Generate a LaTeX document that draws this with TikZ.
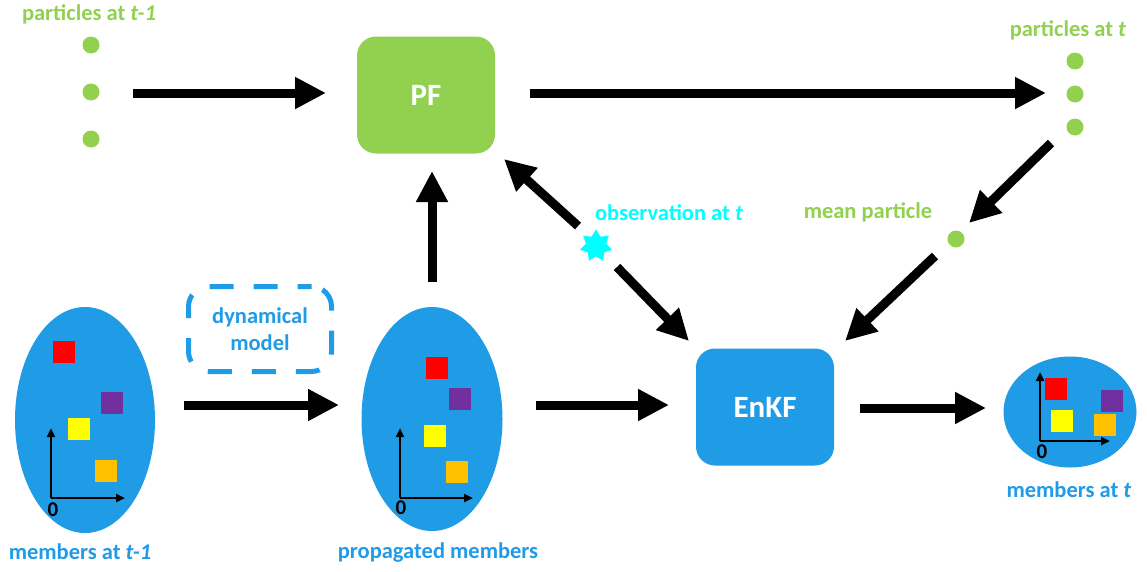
\documentclass[tikz,border=0pt]{standalone}
\usepackage{fontspec}
\setmainfont{Carlito}
\usetikzlibrary{arrows.meta,shapes.geometric}
\definecolor{pgreen}{RGB}{146,208,80}
\definecolor{mblue}{RGB}{32,155,230}
\definecolor{obscyan}{RGB}{0,255,255}
\definecolor{sqred}{RGB}{255,0,0}
\definecolor{sqpurple}{RGB}{112,48,160}
\definecolor{sqyellow}{RGB}{255,255,0}
\definecolor{sqorange}{RGB}{255,192,0}
\tikzset{
  bigarrow/.style={line width=9pt,-{Triangle[length=31pt,width=30pt]}},
  axisarrow/.style={line width=2.5pt,-{Triangle[length=9pt,width=8pt]}},
  dot/.style={circle,fill=pgreen,inner sep=0pt,minimum size=17pt},
  glabel/.style={text=pgreen,font=\fontsize{22.5}{26}\selectfont\bfseries,inner sep=0pt},
  blabel/.style={text=mblue,font=\fontsize{22.5}{26}\selectfont\bfseries,inner sep=0pt},
  procbox/.style={rounded corners=19pt,text=white,font=\fontsize{31}{34}\selectfont\bfseries,minimum width=138pt,minimum height=117pt},
  ens/.style={ellipse,fill=mblue,inner sep=0pt},
  sq/.style={minimum size=22pt,inner sep=0pt},
  zero/.style={font=\fontsize{21}{24}\selectfont\bfseries,inner sep=0pt}
}
\begin{document}
\begin{tikzpicture}[x=1pt,y=-1pt]
\useasboundingbox (0,0) rectangle (1147,571);
% particles at t-1
\node[glabel] (lpt1) at (89,14) {particles at \textit{t-1}};
\node[dot] (p1a) at (91,45) {};
\node[dot] (p1b) at (91,92) {};
\node[dot] (p1c) at (91,139) {};
% PF
\node[procbox,fill=pgreen] (pf) at (426,95) {PF};
% particles at t
\node[glabel] (lpt) at (1068,30) {particles at \textit{t}};
\node[dot] (p2a) at (1075,61) {};
\node[dot] (p2b) at (1075,94) {};
\node[dot] (p2c) at (1075,127) {};
% mean particle
\node[glabel] (lmean) at (868,212) {mean particle};
\node[dot] (pm) at (956,239) {};
% observation
\node[text=obscyan,font=\fontsize{22.5}{26}\selectfont\bfseries,inner sep=0pt] (lobs) at (669,213) {observation at \textit{t}};
\node[star,star points=7,star point ratio=1.6,fill=obscyan,minimum size=33pt,inner sep=0pt] (obs) at (596,246) {};
% EnKF
\node[procbox,fill=mblue] (enkf) at (765,407) {EnKF};
% dynamical model
\node[draw=mblue,line width=5pt,dash pattern=on 24pt off 20pt,dash phase=10pt,rounded corners=20pt,minimum width=143pt,minimum height=85pt,text=mblue,font=\fontsize{22.5}{27}\selectfont\bfseries,align=center] (dyn) at (260,329) {dynamical\\model};
% ensemble at t-1
\node[ens,minimum width=140pt,minimum height=226pt] (e1) at (85,420) {};
\node[sq,fill=sqred] (e1r) at (64,352) {};
\node[sq,fill=sqpurple] (e1p) at (112,403) {};
\node[sq,fill=sqyellow] (e1y) at (79,429) {};
\node[sq,fill=sqorange] (e1o) at (106,471) {};
\coordinate (o1) at (51,498);
\coordinate (o1y) at (51,428);
\coordinate (o1x) at (125,498);
\draw[axisarrow] (o1) -- (o1y);
\draw[axisarrow] (o1) -- (o1x);
\node[zero] (z1) at (53,510) {0};
\node[blabel] (le1) at (80,552) {members at \textit{t-1}};
% propagated
\node[ens,minimum width=141pt,minimum height=224pt] (e2) at (432,419) {};
\node[sq,fill=sqred] (e2r) at (437,368) {};
\node[sq,fill=sqpurple] (e2p) at (460,399) {};
\node[sq,fill=sqyellow] (e2y) at (435,436) {};
\node[sq,fill=sqorange] (e2o) at (457,472) {};
\coordinate (o2) at (400,498);
\coordinate (o2y) at (400,428);
\coordinate (o2x) at (473,498);
\draw[axisarrow] (o2) -- (o2y);
\draw[axisarrow] (o2) -- (o2x);
\node[zero] (z2) at (401,508) {0};
\node[blabel] (le2) at (438,552) {propagated members};
% members at t
\node[ens,minimum width=133pt,minimum height=111pt] (e3) at (1070,412) {};
\node[sq,fill=sqred] (e3r) at (1056,389) {};
\node[sq,fill=sqpurple] (e3p) at (1112,401) {};
\node[sq,fill=sqyellow] (e3y) at (1062,421) {};
\node[sq,fill=sqorange] (e3o) at (1105,425) {};
\coordinate (o3) at (1040,441);
\coordinate (o3y) at (1040,372);
\coordinate (o3x) at (1110,441);
\draw[axisarrow] (o3) -- (o3y);
\draw[axisarrow] (o3) -- (o3x);
\node[zero] (z3) at (1042,452) {0};
\node[blabel] (le3) at (1069,490) {members at \textit{t}};
% big arrows
\coordinate (a1s) at (133,93);
\coordinate (a1e) at (326,93);
\draw[bigarrow] (a1s) -- (a1e);
\coordinate (a2s) at (530,93);
\coordinate (a2e) at (1046,93);
\draw[bigarrow] (a2s) -- (a2e);
\coordinate (a3s) at (1051,143);
\coordinate (a3e) at (969,223);
\draw[bigarrow] (a3s) -- (a3e);
\coordinate (a4s) at (935,256);
\coordinate (a4e) at (845,341);
\draw[bigarrow] (a4s) -- (a4e);
\coordinate (a5s) at (578,226);
\coordinate (a5e) at (504,159);
\draw[bigarrow] (a5s) -- (a5e);
\coordinate (a6s) at (617,267);
\coordinate (a6e) at (689,341);
\draw[bigarrow] (a6s) -- (a6e);
\coordinate (a7s) at (432,282);
\coordinate (a7e) at (432,171);
\draw[bigarrow] (a7s) -- (a7e);
\coordinate (a8s) at (184,405);
\coordinate (a8e) at (339,405);
\draw[bigarrow] (a8s) -- (a8e);
\coordinate (a9s) at (536,405);
\coordinate (a9e) at (669,405);
\draw[bigarrow] (a9s) -- (a9e);
\coordinate (a10s) at (860,408);
\coordinate (a10e) at (986,408);
\draw[bigarrow] (a10s) -- (a10e);
\end{tikzpicture}
\end{document}
